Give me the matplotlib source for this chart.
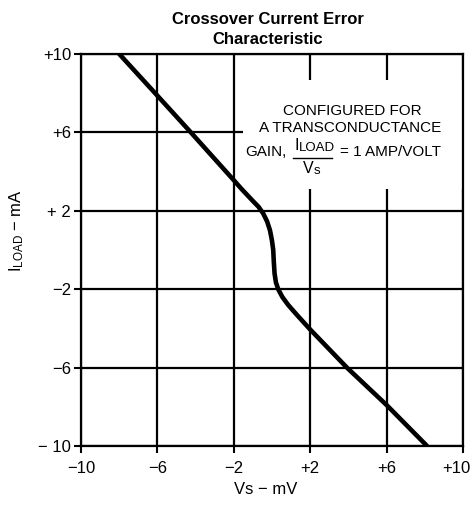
import matplotlib
matplotlib.use('Agg')
import matplotlib.pyplot as plt
import matplotlib.transforms as mtrans
from matplotlib.patches import Rectangle
from matplotlib.lines import Line2D

plt.rcParams['font.family'] = ['Liberation Sans', 'DejaVu Sans']
plt.rcParams['mathtext.fontset'] = 'custom'
plt.rcParams['mathtext.rm'] = 'Liberation Sans'

# curve: Vs (mV) vs I_LOAD (mA)
vs = [-8.0, -6.0, -4.25, -2.0, -1.6, -1.0, -0.7, -0.45, -0.25, -0.1,
      0.0, 0.07, 0.1, 0.14, 0.21, 0.33, 0.55, 0.85, 1.3, 2.0,
      3.93, 6.0, 8.13]
i_load = [10.0, 7.87, 6.0, 3.56, 3.12, 2.5, 2.2, 1.85, 1.45, 1.0,
          0.5, 0.0, -0.6, -1.2, -1.65, -2.0, -2.4, -2.8, -3.3, -4.05,
          -6.0, -7.9, -10.0]

x_ticks = [-10, -6, -2, 2, 6, 10]
x_labels = ['\u221210', '\u22126', '\u22122', '+2', '+6', '+10']
y_ticks = [-10, -6, -2, 2, 6, 10]
y_labels = ['\u2212 10', '\u22126', '\u22122', '+ 2', '+6', '+10']

fig = plt.figure(figsize=(4.7, 5.07), dpi=100)
ax = fig.add_axes([0.172, 0.12, 0.813, 0.774])

ax.set_xlim(-10, 10)
ax.set_ylim(-10, 10)
ax.set_xticks(x_ticks)
ax.set_xticklabels(x_labels)
ax.set_yticks(y_ticks)
ax.set_yticklabels(y_labels)
ax.grid(True, color='black', lw=1.6)
ax.tick_params(direction='out', length=5, width=1.5, labelsize=12, pad=2)
ax.tick_params(axis='x', pad=6)
for s in ax.spines.values():
    s.set_linewidth(1.6)

# last x label sits at the right edge, push it inward
last = ax.get_xticklabels()[-1]
last.set_horizontalalignment('right')
last.set_transform(last.get_transform() + mtrans.ScaledTranslation(0.08, 0, fig.dpi_scale_trans))

# blank area behind the note, grid lines stop at it
ax.add_patch(Rectangle((-1.5, 3.13), 11.5, 5.54, facecolor='white',
                       edgecolor='none', zorder=2))

ax.plot(vs, i_load, color='black', lw=3.3, solid_capstyle='butt',
        solid_joinstyle='round', zorder=3)

# title and axis labels
fig.text(268 / 470, 1 - 20 / 507, 'Crossover Current Error', fontsize=12,
         fontweight='bold', ha='center', va='center')
fig.text(268 / 470, 1 - 40 / 507, 'Characteristic', fontsize=12,
         fontweight='bold', ha='center', va='center')
fig.text(266 / 470, 1 - 489 / 507, 'Vs \u2212 mV', fontsize=12,
         ha='center', va='center')
fig.text(17 / 470, 1 - 231 / 507, '$\\mathregular{I_{LOAD}}$ \u2212 mA',
         fontsize=12, ha='center', va='center', rotation=90)

# the note
fig.text(352 / 470, 1 - 111 / 507, 'CONFIGURED FOR', fontsize=11,
         ha='center', va='center')
fig.text(350 / 470, 1 - 128 / 507, 'A TRANSCONDUCTANCE', fontsize=11,
         ha='center', va='center')
fig.text(245 / 470, 1 - 156 / 507, 'GAIN,', fontsize=11,
         ha='left', va='baseline')
fig.text(294 / 470, 1 - 150 / 507, 'I', fontsize=11.5,
         ha='left', va='baseline')
fig.text(299 / 470, 1 - 151 / 507, 'LOAD', fontsize=9.5,
         ha='left', va='baseline')
fig.add_artist(Line2D([293 / 470, 332 / 470], [1 - 158 / 507, 1 - 158 / 507],
                      color='black', lw=1))
fig.text(303 / 470, 1 - 173 / 507, 'V', fontsize=11.5,
         ha='left', va='baseline')
fig.text(314 / 470, 1 - 174 / 507, 's', fontsize=9.5,
         ha='left', va='baseline')
fig.text(340 / 470, 1 - 156 / 507, '= 1 AMP/VOLT', fontsize=11,
         ha='left', va='baseline')

plt.savefig('out.png', dpi=100)
